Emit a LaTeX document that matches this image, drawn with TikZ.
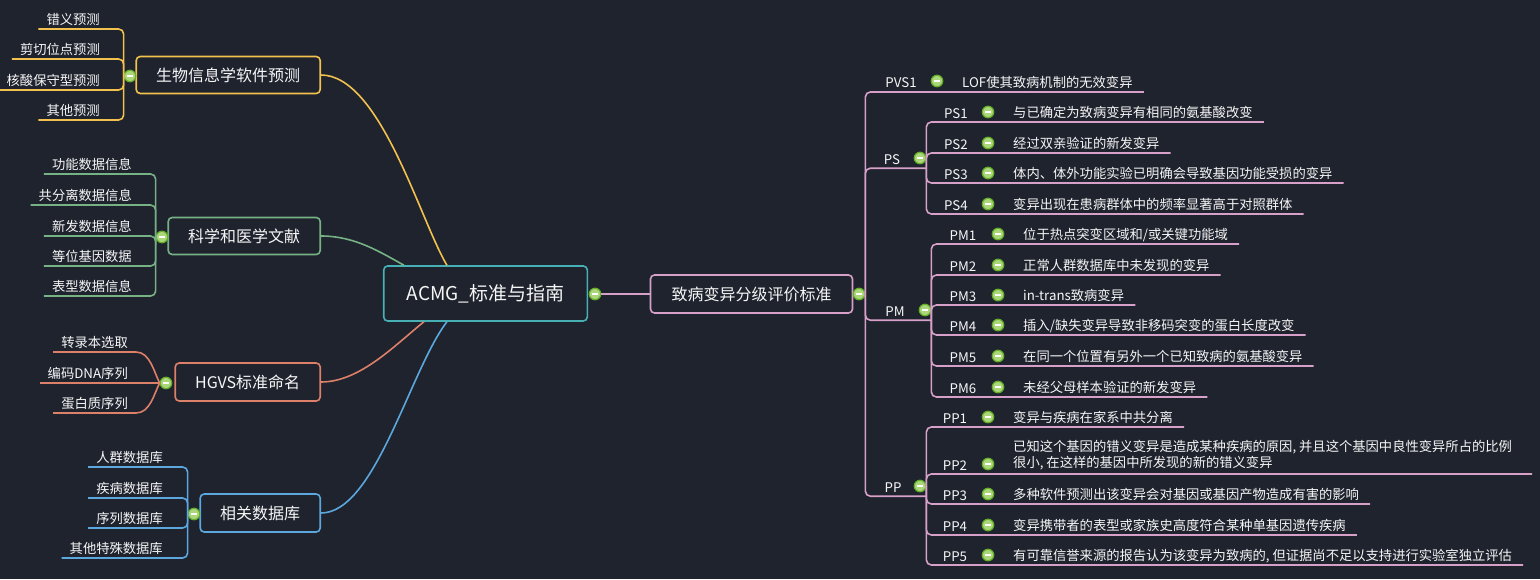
\documentclass[tikz,border=0pt]{standalone}
\usepackage{fontspec}
\setmainfont{Noto Sans CJK SC}
\usetikzlibrary{positioning, calc}
\definecolor{bgdark}{RGB}{31,35,46}
\definecolor{txtwhite}{RGB}{246,246,246}
\definecolor{cyel}{RGB}{242,193,78}
\definecolor{cgrn}{RGB}{118,178,132}
\definecolor{csal}{RGB}{221,128,105}
\definecolor{cblu}{RGB}{92,168,222}
\definecolor{cteal}{RGB}{70,176,180}
\definecolor{cpink}{RGB}{214,160,200}
\definecolor{foldrim}{RGB}{100,175,40}
\definecolor{foldfill}{RGB}{172,214,122}
\tikzset{
  topic/.style={rectangle, draw, fill=bgdark, text=txtwhite,
    rounded corners=4pt, line width=1.6pt, font=\fontsize{16}{19}\selectfont,
    inner xsep=20pt, minimum height=37pt},
  leaf/.style={text=txtwhite, font=\fontsize{13.3}{16}\selectfont,
    text height=12pt, text depth=0pt, inner ysep=4pt},
  lleaf/.style={leaf, anchor=south east, inner xsep=8pt},
  rleaf/.style={leaf, anchor=south west, inner xsep=11pt},
  tag/.style={leaf, inner xsep=2pt},
  fold/.style={circle, draw=foldrim, fill=foldfill, line width=1.2pt,
    minimum size=11.5pt, inner sep=0pt,
    path picture={\draw[white, line width=1.8pt]
      ([xshift=-2.7pt]path picture bounding box.center) --
      ([xshift=2.7pt]path picture bounding box.center);}},
  branch/.style={line width=1.6pt, rounded corners=5pt},
  curve/.style={line width=1.6pt}
}
\begin{document}
\begin{tikzpicture}[x=1pt, y=-1pt]
  \fill[bgdark] (0,0) rectangle (1540,579);
  \useasboundingbox (0,0) rectangle (1540,579);

  % central topics
  \node (root) [topic, draw=cteal, font=\fontsize{19}{22}\selectfont, inner xsep=23pt, minimum height=55pt] at (485.5,293.5) {ACMG\_标准与指南};
  \node (crit) [topic, draw=cpink, inner xsep=21pt, minimum height=38pt] at (751.5,294) {致病变异分级评价标准};
  \node (bio) [topic, draw=cyel, anchor=east] at (321,75) {生物信息学软件预测};
  \node (sci) [topic, draw=cgrn, anchor=east] at (321,236) {科学和医学文献};
  \node (hgvs) [topic, draw=csal, anchor=east, minimum height=38pt] at (321,382) {HGVS标准命名};
  \node (db) [topic, draw=cblu, anchor=east, minimum height=38pt] at (321,513) {相关数据库};

  \node (froot) [fold] at (595,294) {};
  \node (fcrit) [fold] at (859,294) {};
  \node (fbio) [fold] at (130,76) {};
  \node (fsci) [fold] at (162,237) {};
  \node (fhgvs) [fold] at (166,383) {};
  \node (fdb) [fold] at (194,514) {};

  \draw [curve, cpink] (froot.east) -- (crit.west);
  \draw [curve, cyel] (bio.east) .. controls (380,75) and (420,220) .. ([xshift=64pt]root.north west);
  \draw [curve, cgrn] (sci.east) .. controls (355,236) and (380,252) .. ([xshift=21pt]root.north west);
  \draw [curve, csal] (hgvs.east) .. controls (360,382) and (395,345) .. ([xshift=41pt]root.south west);
  \draw [curve, cblu] (db.east) .. controls (375,513) and (410,370) .. ([xshift=64pt]root.south west);

  % left: software prediction
  \node (bio1) [lleaf] at (108,29) {错义预测};
  \node (bio2) [lleaf] at (108,59) {剪切位点预测};
  \node (bio3) [lleaf] at (108,90) {核酸保守型预测};
  \node (bio4) [lleaf] at (108,120) {其他预测};
  \draw [branch, cyel] (fbio.west) |- (bio1.south west);
  \draw [branch, cyel] (fbio.west) |- (bio2.south west);
  \draw [branch, cyel] (fbio.west) |- (bio3.south west);
  \draw [branch, cyel] (fbio.west) |- (bio4.south west);

  % left: literature
  \node (sci1) [lleaf] at (140,174) {功能数据信息};
  \node (sci2) [lleaf] at (140,205) {共分离数据信息};
  \node (sci3) [lleaf] at (140,236) {新发数据信息};
  \node (sci4) [lleaf] at (140,266) {等位基因数据};
  \node (sci5) [lleaf] at (140,296) {表型数据信息};
  \draw [branch, cgrn] (fsci.west) |- (sci1.south west);
  \draw [branch, cgrn] (fsci.west) |- (sci2.south west);
  \draw [branch, cgrn] (fsci.west) |- (sci3.south west);
  \draw [branch, cgrn] (fsci.west) |- (sci4.south west);
  \draw [branch, cgrn] (fsci.west) |- (sci5.south west);

  % left: HGVS naming
  \node (hgvs1) [lleaf] at (136,352) {转录本选取};
  \node (hgvs2) [lleaf] at (136,383) {编码DNA序列};
  \node (hgvs3) [lleaf] at (136,413) {蛋白质序列};
  \draw [curve, csal] (fhgvs.west) .. controls (154,372) and (150,352) .. (hgvs1.south east) -- (hgvs1.south west);
  \draw [curve, csal] (fhgvs.west) -- (hgvs2.south west);
  \draw [curve, csal] (fhgvs.west) .. controls (154,394) and (150,413) .. (hgvs3.south east) -- (hgvs3.south west);

  % left: databases
  \node (db1) [lleaf] at (171,467) {人群数据库};
  \node (db2) [lleaf] at (171,498) {疾病数据库};
  \node (db3) [lleaf] at (171,528) {序列数据库};
  \node (db4) [lleaf] at (171,558) {其他特殊数据库};
  \draw [branch, cblu] (fdb.west) |- (db1.south west);
  \draw [branch, cblu] (fdb.west) |- (db2.south west);
  \draw [branch, cblu] (fdb.west) |- (db3.south west);
  \draw [branch, cblu] (fdb.west) |- (db4.south west);

  % right: PVS1
  \node (pvs1) [tag] at (901,81) {PVS1};
  \node (fpvs1) [fold] at (937,81) {};
  \node (pvs1t) [rleaf] at (951,92) {LOF使其致病机制的无效变异};
  \draw [branch, cpink] (fcrit.east) |- (pvs1t.south east);

  % right: PS
  \node (ps) [tag] at (892,158) {PS};
  \node (fps) [fold] at (920,158) {};
  \draw [branch, cpink] (fcrit.east) |- (ps.south -| fps.east);
  \node (ps1) [tag] at (956,112) {PS1};
  \node (fps1) [fold] at (988,112) {};
  \node (ps1t) [rleaf] at (1002,122) {与已确定为致病变异有相同的氨基酸改变};
  \node (ps2) [tag] at (956,143) {PS2};
  \node (fps2) [fold] at (988,143) {};
  \node (ps2t) [rleaf] at (1002,153) {经过双亲验证的新发变异};
  \node (ps3) [tag] at (956,173) {PS3};
  \node (fps3) [fold] at (988,173) {};
  \node (ps3t) [rleaf] at (1002,183) {体内、体外功能实验已明确会导致基因功能受损的变异};
  \node (ps4) [tag] at (956,204) {PS4};
  \node (fps4) [fold] at (988,204) {};
  \node (ps4t) [rleaf] at (1002,214) {变异出现在患病群体中的频率显著高于对照群体};
  \draw [branch, cpink] (fps.east) |- (ps1t.south east);
  \draw [branch, cpink] (fps.east) |- (ps2t.south east);
  \draw [branch, cpink] (fps.east) |- (ps3t.south east);
  \draw [branch, cpink] (fps.east) |- (ps4t.south east);

  % right: PM
  \node (pm) [tag] at (895,310) {PM};
  \node (fpm) [fold] at (925,310) {};
  \draw [branch, cpink] (fcrit.east) |- (pm.south -| fpm.east);
  \node (pm1) [tag] at (963,234) {PM1};
  \node (fpm1) [fold] at (998,234) {};
  \node (pm1t) [rleaf] at (1012,244) {位于热点突变区域和/或关键功能域};
  \node (pm2) [tag] at (963,265) {PM2};
  \node (fpm2) [fold] at (998,265) {};
  \node (pm2t) [rleaf] at (1012,275) {正常人群数据库中未发现的变异};
  \node (pm3) [tag] at (963,295) {PM3};
  \node (fpm3) [fold] at (998,295) {};
  \node (pm3t) [rleaf] at (1012,305) {in-trans致病变异};
  \node (pm4) [tag] at (963,325) {PM4};
  \node (fpm4) [fold] at (998,325) {};
  \node (pm4t) [rleaf] at (1012,335) {插入/缺失变异导致非移码突变的蛋白长度改变};
  \node (pm5) [tag] at (963,356) {PM5};
  \node (fpm5) [fold] at (998,356) {};
  \node (pm5t) [rleaf] at (1012,366) {在同一个位置有另外一个已知致病的氨基酸变异};
  \node (pm6) [tag] at (963,387) {PM6};
  \node (fpm6) [fold] at (998,387) {};
  \node (pm6t) [rleaf] at (1012,397) {未经父母样本验证的新发变异};
  \draw [branch, cpink] (fpm.east) |- (pm1t.south east);
  \draw [branch, cpink] (fpm.east) |- (pm2t.south east);
  \draw [branch, cpink] (fpm.east) |- (pm3t.south east);
  \draw [branch, cpink] (fpm.east) |- (pm4t.south east);
  \draw [branch, cpink] (fpm.east) |- (pm5t.south east);
  \draw [branch, cpink] (fpm.east) |- (pm6t.south east);

  % right: PP
  \node (pp) [tag] at (893,486) {PP};
  \node (fpp) [fold] at (920,486) {};
  \draw [branch, cpink] (fcrit.east) |- (pp.south -| fpp.east);
  \node (pp1) [tag] at (955,417) {PP1};
  \node (fpp1) [fold] at (988,417) {};
  \node (pp1t) [rleaf] at (1002,427) {变异与疾病在家系中共分离};
  \node (pp2) [tag] at (955,464) {PP2};
  \node (fpp2) [fold] at (988,464) {};
  \node (pp2t) [anchor=south west, text=txtwhite, font=\fontsize{13.3}{16}\selectfont, align=left, inner xsep=20pt, inner ysep=4pt] at (993,474) {已知这个基因的错义变异是造成某种疾病的原因, 并且这个基因中良性变异所占的比例\\很小, 在这样的基因中所发现的新的错义变异};
  \node (pp3) [tag] at (955,494) {PP3};
  \node (fpp3) [fold] at (988,494) {};
  \node (pp3t) [rleaf] at (1002,504) {多种软件预测出该变异会对基因或基因产物造成有害的影响};
  \node (pp4) [tag] at (955,525) {PP4};
  \node (fpp4) [fold] at (988,525) {};
  \node (pp4t) [rleaf] at (1002,535) {变异携带者的表型或家族史高度符合某种单基因遗传疾病};
  \node (pp5) [tag] at (955,555) {PP5};
  \node (fpp5) [fold] at (988,555) {};
  \node (pp5t) [rleaf] at (1002,565) {有可靠信誉来源的报告认为该变异为致病的, 但证据尚不足以支持进行实验室独立评估};
  \draw [branch, cpink] (fpp.east) |- (pp1t.south east);
  \draw [branch, cpink] (fpp.east) |- (pp2t.south east);
  \draw [branch, cpink] (fpp.east) |- (pp3t.south east);
  \draw [branch, cpink] (fpp.east) |- (pp4t.south east);
  \draw [branch, cpink] (fpp.east) |- (pp5t.south east);
\end{tikzpicture}
\end{document}
